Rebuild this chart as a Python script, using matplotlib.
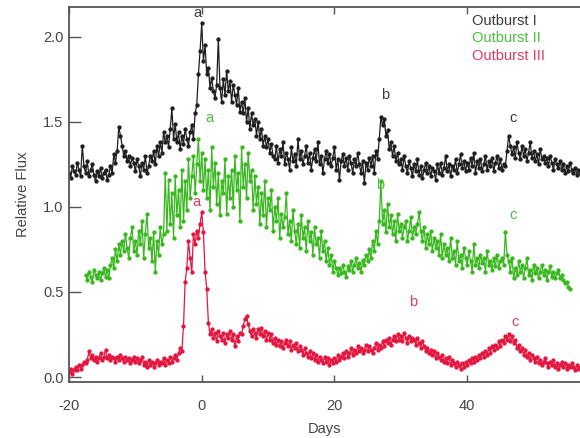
import numpy as np
import matplotlib
matplotlib.use("Agg")
import matplotlib.pyplot as plt

plt.rcParams['font.family'] = ['Liberation Sans', 'DejaVu Sans']
plt.rcParams['axes.unicode_minus'] = False

# relative flux, sampled every quarter day (one row = 2 days)
days_1 = np.arange(-20.0, 57.9, 0.25)
flux_1 = [
    1.20, 1.17, 1.24, 1.21, 1.19, 1.26, 1.22, 1.18,
    1.36, 1.24, 1.20, 1.27, 1.18, 1.22, 1.25, 1.19,
    1.15, 1.21, 1.18, 1.23, 1.17, 1.20, 1.22, 1.16,
    1.19, 1.24, 1.20, 1.31, 1.26, 1.33, 1.47, 1.42,
    1.36, 1.30, 1.33, 1.27, 1.30, 1.24, 1.29, 1.26,
    1.21, 1.28, 1.24, 1.18, 1.26, 1.22, 1.30, 1.20,
    1.24, 1.30, 1.27, 1.33, 1.25, 1.36, 1.30, 1.38,
    1.32, 1.44, 1.38, 1.42, 1.35, 1.46, 1.58, 1.40,
    1.49, 1.38, 1.44, 1.34, 1.42, 1.37, 1.46, 1.40,
    1.36, 1.44, 1.48, 1.40, 1.55, 1.60, 1.78, 1.92,
    2.08, 1.86, 1.95, 1.78, 1.82, 1.70, 1.76, 1.68,
    1.64, 1.72, 1.99, 1.70, 1.62, 1.75, 1.66, 1.80,
    1.68, 1.74, 1.62, 1.72, 1.66, 1.60, 1.70, 1.56,
    1.62, 1.55, 1.64, 1.50, 1.58, 1.46, 1.55, 1.48,
    1.52, 1.42, 1.50, 1.40, 1.46, 1.36, 1.42, 1.35,
    1.40, 1.32, 1.37, 1.30, 1.28, 1.36, 1.26, 1.34,
    1.30, 1.38, 1.25, 1.32, 1.28, 1.22, 1.35, 1.27,
    1.31, 1.24, 1.40, 1.28, 1.33, 1.25, 1.30, 1.36,
    1.26, 1.32, 1.22, 1.29, 1.34, 1.27, 1.38, 1.25,
    1.30, 1.20, 1.28, 1.33, 1.26, 1.31, 1.24, 1.29,
    1.35, 1.22, 1.28, 1.16, 1.27, 1.31, 1.24, 1.29,
    1.22, 1.30, 1.26, 1.20, 1.28, 1.24, 1.32, 1.25,
    1.20, 1.27, 1.14, 1.26, 1.22, 1.29, 1.24, 1.30,
    1.20, 1.33, 1.28, 1.40, 1.53, 1.48, 1.52, 1.42,
    1.45, 1.34, 1.38, 1.30, 1.36, 1.27, 1.32, 1.25,
    1.28, 1.22, 1.30, 1.24, 1.20, 1.27, 1.23, 1.18,
    1.25, 1.21, 1.28, 1.19, 1.24, 1.17, 1.22, 1.26,
    1.20, 1.24, 1.18, 1.23, 1.21, 1.16, 1.25, 1.20,
    1.26, 1.19, 1.23, 1.30, 1.21, 1.25, 1.18, 1.24,
    1.22, 1.28, 1.20, 1.25, 1.31, 1.23, 1.27, 1.21,
    1.26, 1.22, 1.29, 1.24, 1.32, 1.20, 1.27, 1.23,
    1.28, 1.21, 1.25, 1.30, 1.22, 1.27, 1.24, 1.29,
    1.21, 1.26, 1.30, 1.23, 1.28, 1.22, 1.25, 1.24,
    1.33, 1.42, 1.36, 1.31, 1.35, 1.29, 1.38, 1.32,
    1.28, 1.36, 1.30, 1.34, 1.27, 1.32, 1.38, 1.29,
    1.33, 1.27, 1.31, 1.25, 1.34, 1.28, 1.30, 1.26,
    1.29, 1.24, 1.30, 1.26, 1.22, 1.28, 1.25, 1.23,
    1.27, 1.22, 1.25, 1.20, 1.24, 1.21, 1.26, 1.22,
    1.20, 1.23, 1.19, 1.22, 1.20, 1.18, 1.21, 1.19,
]

days_2 = np.arange(-17.5, 55.6, 0.25)
flux_2 = [
    0.60, 0.57, 0.62, 0.59, 0.56, 0.63, 0.60, 0.58,
    0.62, 0.57, 0.61, 0.64, 0.59, 0.63, 0.58, 0.66,
    0.70, 0.64, 0.75, 0.68, 0.78, 0.72, 0.80, 0.74,
    0.84, 0.76, 0.70, 0.82, 0.88, 0.74, 0.80, 0.72,
    0.86, 0.78, 0.92, 0.70, 0.84, 0.96, 0.76, 0.82,
    0.68, 0.85, 0.62, 0.80, 0.72, 0.88, 0.78, 0.84,
    1.20, 0.86, 1.16, 0.90, 1.08, 0.82, 1.18, 0.95,
    1.10, 0.88, 1.22, 0.92, 1.15, 0.98, 1.28, 1.05,
    1.18, 1.30, 1.08, 1.25, 1.40, 1.15, 1.32, 1.10,
    1.28, 1.05, 1.22, 0.98, 1.35, 1.12, 1.26, 1.02,
    1.20, 0.95, 1.15, 1.08, 1.28, 0.96, 1.18, 1.05,
    1.22, 1.00, 1.30, 1.10, 1.20, 0.92, 1.35, 1.12,
    1.25, 1.05, 1.32, 1.15, 1.22, 0.98, 1.18, 1.02,
    1.12, 0.90, 1.08, 0.95, 1.15, 0.88, 1.05, 0.98,
    1.10, 0.86, 1.00, 0.92, 1.05, 0.82, 0.96, 0.88,
    0.94, 1.08, 0.84, 0.92, 0.80, 0.98, 0.86, 0.78,
    0.90, 0.76, 0.95, 0.82, 0.88, 0.74, 0.92, 0.80,
    0.85, 0.72, 0.88, 0.78, 0.82, 0.70, 0.86, 0.74,
    0.80, 0.68, 0.76, 0.66, 0.72, 0.62, 0.68, 0.64,
    0.60, 0.64, 0.61, 0.66, 0.62, 0.59, 0.65, 0.63,
    0.68, 0.62, 0.66, 0.70, 0.64, 0.67, 0.62, 0.69,
    0.66, 0.72, 0.68, 0.75, 0.70, 0.80, 0.74, 0.86,
    0.78, 0.92, 1.15, 0.90, 0.98, 0.85, 1.02, 0.88,
    0.95, 0.84, 0.92, 0.80, 0.96, 0.86, 0.90, 0.82,
    0.88, 0.92, 0.80, 0.86, 0.94, 0.82, 0.88, 0.84,
    0.90, 0.97, 0.86, 0.80, 0.88, 0.76, 0.84, 0.78,
    0.86, 0.74, 0.82, 0.76, 0.80, 0.72, 0.84, 0.70,
    0.78, 0.72, 0.76, 0.68, 0.82, 0.70, 0.74, 0.66,
    0.80, 0.68, 0.72, 0.64, 0.76, 0.70, 0.66, 0.74,
    0.68, 0.62, 0.78, 0.66, 0.70, 0.64, 0.72, 0.67,
    0.70, 0.62, 0.74, 0.66, 0.68, 0.63, 0.70, 0.65,
    0.72, 0.64, 0.68, 0.70, 0.66, 0.85, 0.72, 0.68,
    0.62, 0.70, 0.58, 0.64, 0.60, 0.68, 0.62, 0.66,
    0.58, 0.64, 0.70, 0.60, 0.63, 0.57, 0.66, 0.61,
    0.64, 0.58, 0.62, 0.66, 0.60, 0.63, 0.57, 0.62,
    0.65, 0.59, 0.62, 0.58, 0.61, 0.63, 0.58, 0.60,
    0.57, 0.55, 0.56, 0.53, 0.52,
]

days_3 = np.arange(-20.0, 57.9, 0.25)
flux_3 = [
    0.03, 0.05, 0.02, 0.04, 0.06, 0.04, 0.07, 0.05,
    0.07, 0.09, 0.08, 0.10, 0.15, 0.11, 0.13, 0.10,
    0.12, 0.09, 0.11, 0.14, 0.10, 0.12, 0.16, 0.11,
    0.13, 0.10, 0.12, 0.11, 0.09, 0.12, 0.10, 0.13,
    0.11, 0.09, 0.12, 0.10, 0.11, 0.08, 0.10, 0.12,
    0.09, 0.11, 0.08, 0.10, 0.12, 0.07, 0.09, 0.06,
    0.10, 0.07, 0.09, 0.06, 0.08, 0.10, 0.07, 0.09,
    0.08, 0.11, 0.07, 0.10, 0.08, 0.12, 0.09, 0.11,
    0.13, 0.10, 0.14, 0.17, 0.15, 0.30, 0.56, 0.64,
    0.80, 0.70, 0.62, 0.84, 0.78, 0.86, 0.82, 0.90,
    0.97, 0.85, 0.62, 0.52, 0.32, 0.25, 0.28, 0.23,
    0.26, 0.21, 0.27, 0.24, 0.22, 0.26, 0.20, 0.25,
    0.23, 0.27, 0.22, 0.25, 0.18, 0.24, 0.21, 0.26,
    0.25, 0.30, 0.34, 0.36, 0.31, 0.27, 0.24, 0.28,
    0.26, 0.23, 0.28, 0.25, 0.29, 0.24, 0.27, 0.22,
    0.26, 0.22, 0.25, 0.20, 0.23, 0.19, 0.22, 0.18,
    0.21, 0.17, 0.20, 0.22, 0.18, 0.21, 0.16, 0.19,
    0.17, 0.20, 0.15, 0.18, 0.16, 0.13, 0.17, 0.14,
    0.12, 0.15, 0.11, 0.14, 0.10, 0.13, 0.09, 0.12,
    0.10, 0.08, 0.12, 0.09, 0.11, 0.07, 0.10, 0.08,
    0.11, 0.09, 0.13, 0.10, 0.12, 0.14, 0.11, 0.15,
    0.12, 0.14, 0.17, 0.13, 0.16, 0.14, 0.18, 0.15,
    0.17, 0.14, 0.16, 0.19, 0.15, 0.18, 0.16, 0.14,
    0.17, 0.20, 0.16, 0.19, 0.17, 0.21, 0.18, 0.22,
    0.20, 0.23, 0.19, 0.22, 0.24, 0.21, 0.25, 0.22,
    0.24, 0.21, 0.26, 0.23, 0.20, 0.24, 0.21, 0.23,
    0.22, 0.19, 0.23, 0.20, 0.17, 0.21, 0.18, 0.15,
    0.17, 0.14, 0.16, 0.13, 0.15, 0.11, 0.14, 0.12,
    0.10, 0.13, 0.09, 0.11, 0.08, 0.12, 0.07, 0.10,
    0.08, 0.06, 0.09, 0.07, 0.05, 0.08, 0.06, 0.09,
    0.07, 0.10, 0.08, 0.11, 0.09, 0.12, 0.10, 0.13,
    0.11, 0.14, 0.12, 0.15, 0.13, 0.17, 0.14, 0.18,
    0.16, 0.19, 0.17, 0.21, 0.18, 0.22, 0.20, 0.24,
    0.22, 0.25, 0.21, 0.24, 0.20, 0.22, 0.17, 0.19,
    0.15, 0.17, 0.13, 0.16, 0.12, 0.14, 0.10, 0.13,
    0.11, 0.09, 0.12, 0.08, 0.10, 0.07, 0.09, 0.11,
    0.08, 0.06, 0.09, 0.07, 0.10, 0.06, 0.08, 0.05,
    0.07, 0.09, 0.06, 0.08, 0.05, 0.07, 0.06, 0.08,
    0.06, 0.04, 0.07, 0.05, 0.06, 0.05, 0.07, 0.05,
]

names = ["Outburst I", "Outburst II", "Outburst III"]
line_colors = ["#1e1e1e", "#38b81e", "#e3163f"]
text_colors = ["#3a3a3a", "#4cc03a", "#e23a63"]

# feature labels: (series, text, day, flux)
marks = [
    (0, "a", -1.2, 2.10), (0, "b", 27.0, 1.62), (0, "c", 46.4, 1.48),
    (1, "a", 0.6, 1.48), (1, "b", 26.2, 1.09), (1, "c", 46.3, 0.91),
    (2, "a", -1.4, 0.99), (2, "b", 31.2, 0.40), (2, "c", 46.6, 0.28),
]

fig = plt.figure(figsize=(5.8, 4.38), dpi=100)
ax = fig.add_axes([0.119, 0.128, 0.881, 0.856])

for d, f, c in zip([days_1, days_2, days_3], [flux_1, flux_2, flux_3], line_colors):
    ax.plot(d, f, color=c, lw=0.9, marker='o', ms=2.1, mec=c, mfc=c)

for i, t, x, y in marks:
    ax.text(x, y, t, color=text_colors[i], fontsize=10.5, ha='left', va='bottom')

for k, (n, c) in enumerate(zip(names, text_colors)):
    ax.text(0.789, 0.982 - k * 0.047, n, transform=ax.transAxes,
            color=c, fontsize=10.5, ha='left', va='top')

ax.set_xlim(-20, 57.0)
ax.set_ylim(-0.029, 2.176)
ax.set_xticks([-20, 0, 20, 40])
ax.set_yticks([0.0, 0.5, 1.0, 1.5, 2.0])
ax.set_yticklabels(["0.0", "0.5", "1.0", "1.5", "2.0"])

ax.spines['right'].set_visible(False)
for s in ['left', 'bottom', 'top']:
    ax.spines[s].set_color('#555555')
    ax.spines[s].set_linewidth(1.3)

ax.tick_params(axis='y', direction='in', length=8.5, width=1.0, color='#555555',
               labelsize=10.5, labelcolor='#444444', pad=4)
ax.tick_params(axis='x', direction='in', length=5, width=1.0, color='#555555',
               labelsize=10.5, labelcolor='#444444', pad=12, top=True)

ax.set_xlabel("Days", fontsize=10.5, color='#444444', labelpad=7)
ax.set_ylabel("Relative Flux", fontsize=10.5, color='#444444', labelpad=9)

fig.savefig("out.png", dpi=100)
